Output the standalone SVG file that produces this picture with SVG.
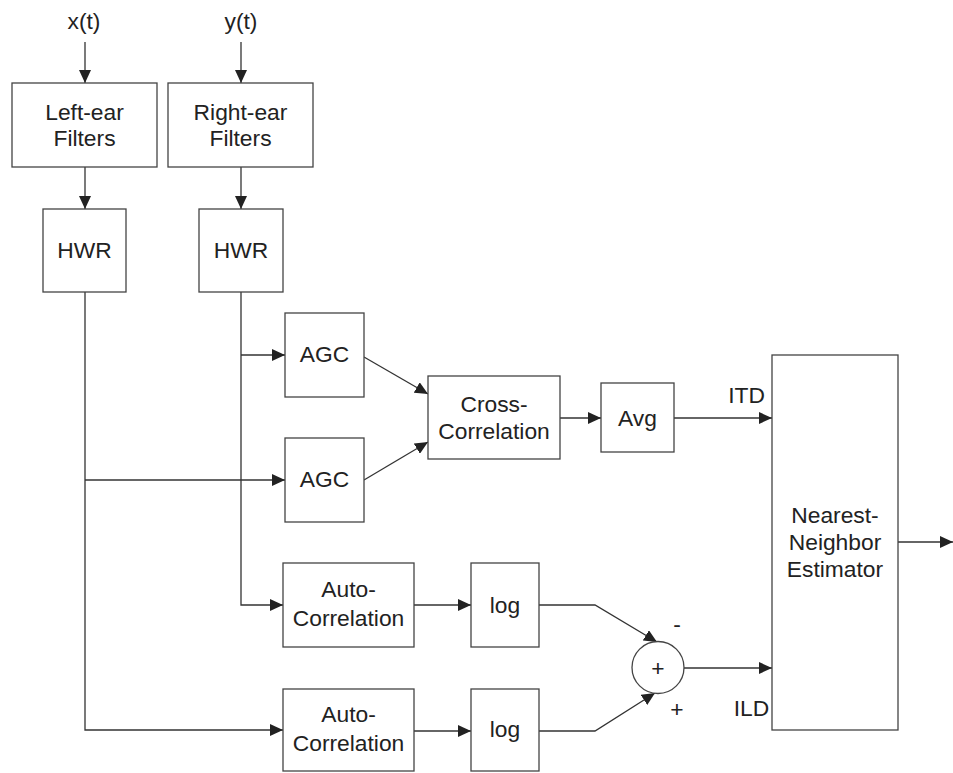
<svg xmlns="http://www.w3.org/2000/svg" width="953" height="773" viewBox="0 0 953 773">
<style>
.box{fill:#fff;stroke:#444;stroke-width:1.3}
.ln{fill:none;stroke:#333;stroke-width:1.3}
.ar{marker-end:url(#ah)}
text{font-family:"Liberation Sans",Arial,sans-serif;font-size:22.8px;fill:#222;text-anchor:middle}
</style>
<defs>
<marker id="ah" markerUnits="userSpaceOnUse" markerWidth="14" markerHeight="12" refX="13" refY="6" orient="auto">
<path d="M0,0 L13,6 L0,12 Z" fill="#222"/>
</marker>
</defs>
<rect width="953" height="773" fill="#fff"/>
<g id="connectors">
<path class="ln ar" d="M85,42 V83"/>
<path class="ln ar" d="M241,42 V83"/>
<path class="ln ar" d="M85,167 V209"/>
<path class="ln ar" d="M241,167 V209"/>
<path class="ln ar" d="M85,292 V730 H283"/>
<path class="ln ar" d="M85,480 H285"/>
<path class="ln ar" d="M241,292 V605 H283"/>
<path class="ln ar" d="M241,355 H285"/>
<path class="ln ar" d="M364,357 L428,394"/>
<path class="ln ar" d="M364,480 L428,442"/>
<path class="ln ar" d="M560,418 H601"/>
<path class="ln ar" d="M674,418 H772"/>
<path class="ln ar" d="M414,605 H471"/>
<path class="ln ar" d="M414,731 H471"/>
<path class="ln ar" d="M539,605 H595 L657,642"/>
<path class="ln ar" d="M539,731 H595 L655,693"/>
<path class="ln ar" d="M684,668 H772"/>
<path class="ln ar" d="M898,542 H953"/>
</g>
<g id="input-x"><text x="84" y="29">x(t)</text></g>
<g id="input-y"><text x="241" y="29">y(t)</text></g>
<g id="left-filters"><rect class="box" x="12" y="83" width="145" height="84"/><text x="84.5" y="120">Left-ear</text><text x="84.5" y="146">Filters</text></g>
<g id="right-filters"><rect class="box" x="168" y="83" width="145" height="84"/><text x="240.5" y="120">Right-ear</text><text x="240.5" y="146">Filters</text></g>
<g id="hwr-left"><rect class="box" x="43" y="209" width="83" height="83"/><text x="84.5" y="258">HWR</text></g>
<g id="hwr-right"><rect class="box" x="199" y="209" width="84" height="83"/><text x="241" y="258">HWR</text></g>
<g id="agc1"><rect class="box" x="285" y="313" width="79" height="84"/><text x="324.5" y="362">AGC</text></g>
<g id="agc2"><rect class="box" x="285" y="438" width="79" height="84"/><text x="324.5" y="487">AGC</text></g>
<g id="cross"><rect class="box" x="428" y="376" width="132" height="83"/><text x="494" y="412">Cross-</text><text x="494" y="439">Correlation</text></g>
<g id="avg"><rect class="box" x="601" y="383" width="73" height="69"/><text x="637.5" y="426">Avg</text></g>
<g id="auto1"><rect class="box" x="283" y="563" width="131" height="84"/><text x="348.5" y="597">Auto-</text><text x="348.5" y="626">Correlation</text></g>
<g id="log1"><rect class="box" x="471" y="563" width="68" height="84"/><text x="505" y="613">log</text></g>
<g id="auto2"><rect class="box" x="283" y="689" width="131" height="82"/><text x="348.5" y="722">Auto-</text><text x="348.5" y="751">Correlation</text></g>
<g id="log2"><rect class="box" x="471" y="689" width="68" height="82"/><text x="505" y="737">log</text></g>
<g id="sum"><circle class="box" cx="658" cy="667.5" r="26"/><text x="658" y="676">+</text><text x="677" y="632">-</text><text x="677" y="717">+</text></g>
<g id="nn"><rect class="box" x="772" y="355" width="126" height="375"/><text x="835" y="523">Nearest-</text><text x="835" y="550">Neighbor</text><text x="835" y="577">Estimator</text></g>
<g id="labels"><text x="746.5" y="403">ITD</text><text x="751.5" y="716">ILD</text></g>
</svg>
